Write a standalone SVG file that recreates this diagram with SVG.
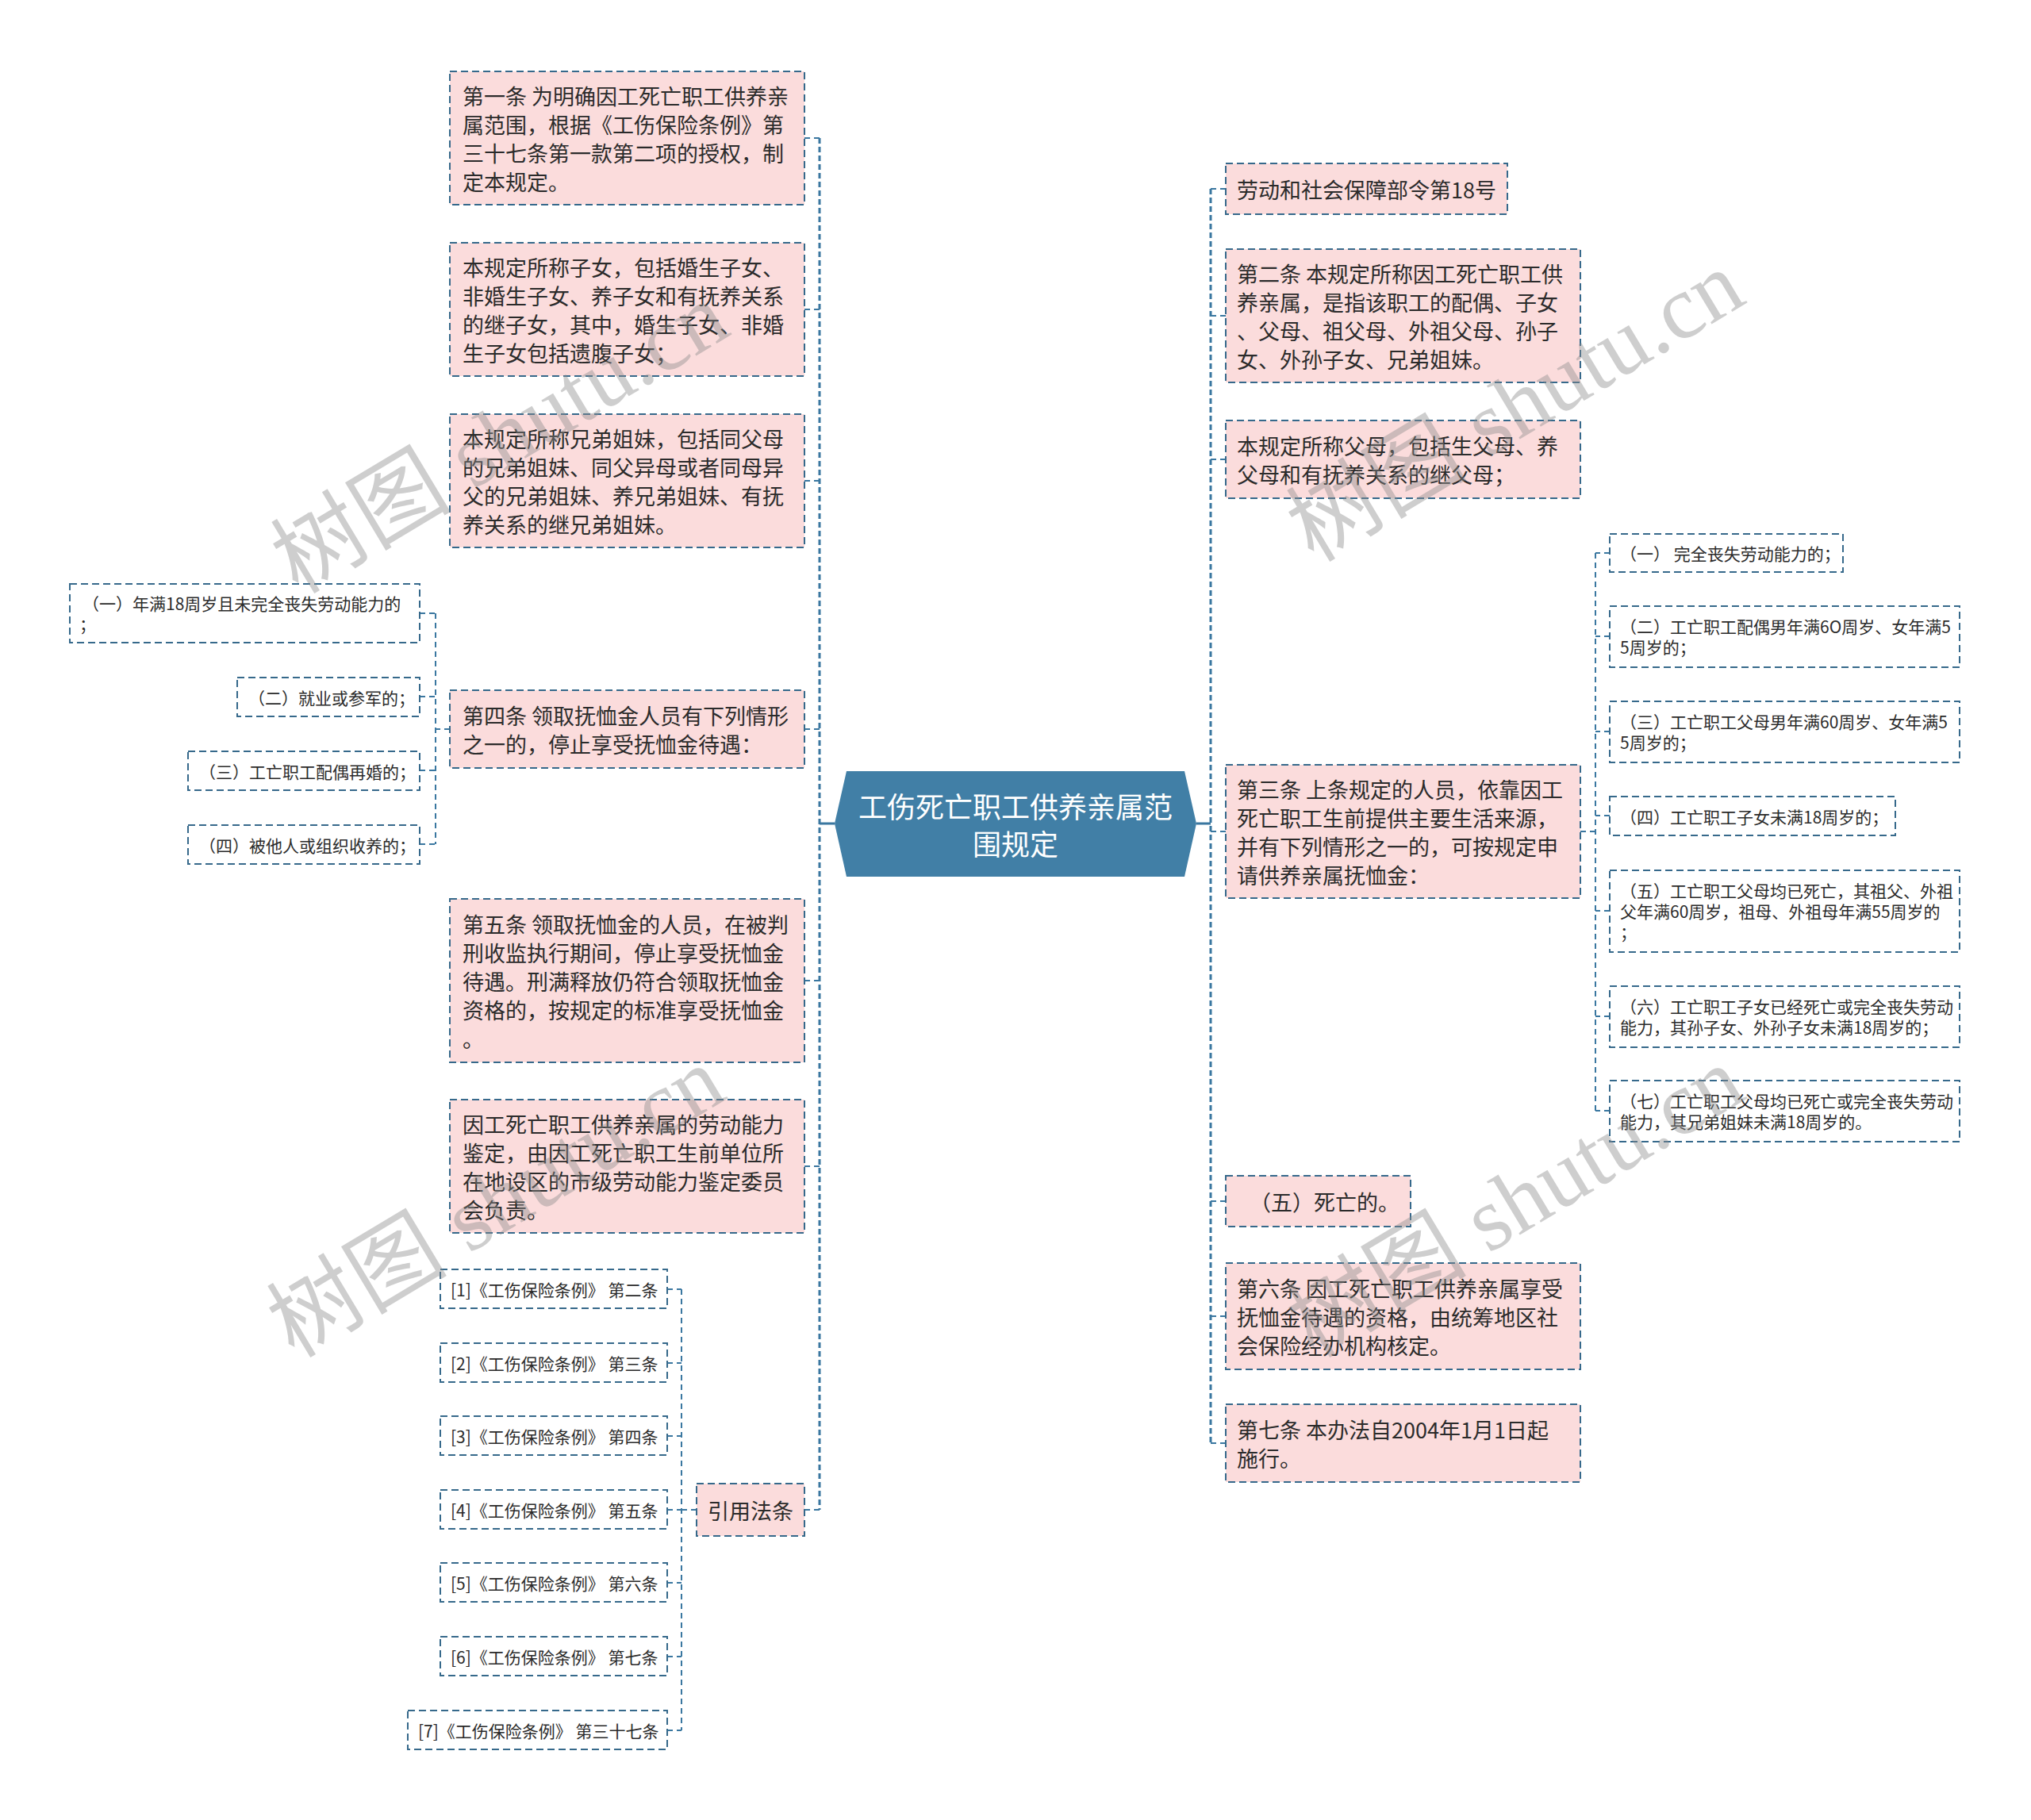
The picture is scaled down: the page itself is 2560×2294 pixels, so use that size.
<svg xmlns="http://www.w3.org/2000/svg" width="2560" height="2294" viewBox="0 0 2560 2294">
<style>
.box{fill:#fbdcdc;stroke:#36698b;stroke-width:2;stroke-dasharray:9 5}
.sbox{fill:#ffffff;stroke:#36698b;stroke-width:2;stroke-dasharray:9 5}
.t{font-family:"Noto Sans CJK SC","Noto Sans",sans-serif;font-size:27px;fill:#2b2b2b;dominant-baseline:central}
.s{font-size:21px}
.ct{font-family:"Noto Sans CJK SC","Noto Sans",sans-serif;font-size:36px;fill:#ffffff;dominant-baseline:central;text-anchor:middle}
.main{stroke:#3a77a0;stroke-width:3;stroke-dasharray:7 4;fill:none}
.sub{stroke:#3a77a0;stroke-width:2;stroke-dasharray:7 5;fill:none}
.link{stroke:#3a77a0;stroke-width:3;fill:none}
.wm{font-family:"Liberation Serif","Noto Sans CJK SC",serif;font-size:114px;fill:#8c8c8c;opacity:0.42}
</style>
<rect width="2560" height="2294" fill="#ffffff"/>

<g id="connectors">
  <path class="link" d="M1052 1038 H1033"/>
  <path class="link" d="M1508 1038 H1526"/>
  <path class="main" d="M1033 174 V1903"/>
  <path class="sub" d="M1014 174 H1033 M1014 390 H1033 M1014 606 H1033 M1014 919 H1033 M1014 1236 H1033 M1014 1470 H1033 M1014 1903 H1033"/>
  <path class="main" d="M1526 238 V1819"/>
  <path class="sub" d="M1545 238 H1526 M1545 398 H1526 M1545 579 H1526 M1545 1048 H1526 M1545 1514 H1526 M1545 1659 H1526 M1545 1819 H1526"/>
  <path class="sub" d="M567 919 H549 M549 773 V1064 M529 773 H549 M529 878 H549 M529 971 H549 M529 1064 H549"/>
  <path class="sub" d="M878 1903 H859 M859 1625 V2181 M841 1625 H859 M841 1718 H859 M841 1810 H859 M841 1903 H859 M841 1995 H859 M841 2088 H859 M841 2181 H859"/>
  <path class="sub" d="M1992 1048 H2011 M2011 697 V1400 M2029 697 H2011 M2029 802 H2011 M2029 922 H2011 M2029 1028 H2011 M2029 1148 H2011 M2029 1281 H2011 M2029 1400 H2011"/>
</g>

<g id="center">
  <polygon points="1052,1038 1067,972 1493,972 1508,1038 1493,1105 1067,1105" fill="#417fa6"/>
  <text class="ct" x="1280" y="1015">工伤死亡职工供养亲属范</text>
  <text class="ct" x="1280" y="1062">围规定</text>
</g>

<g id="L1"><rect class="box" x="567" y="90" width="447" height="168"/>
  <text class="t" x="583" y="120">第一条 为明确因工死亡职工供养亲</text>
  <text class="t" x="583" y="156">属范围，根据《工伤保险条例》第</text>
  <text class="t" x="583" y="192">三十七条第一款第二项的授权，制</text>
  <text class="t" x="583" y="228">定本规定。</text></g>
<g id="L2"><rect class="box" x="567" y="306" width="447" height="168"/>
  <text class="t" x="583" y="336">本规定所称子女，包括婚生子女、</text>
  <text class="t" x="583" y="372">非婚生子女、养子女和有抚养关系</text>
  <text class="t" x="583" y="408">的继子女，其中，婚生子女、非婚</text>
  <text class="t" x="583" y="444">生子女包括遗腹子女；</text></g>
<g id="L3"><rect class="box" x="567" y="522" width="447" height="168"/>
  <text class="t" x="583" y="552">本规定所称兄弟姐妹，包括同父母</text>
  <text class="t" x="583" y="588">的兄弟姐妹、同父异母或者同母异</text>
  <text class="t" x="583" y="624">父的兄弟姐妹、养兄弟姐妹、有抚</text>
  <text class="t" x="583" y="660">养关系的继兄弟姐妹。</text></g>
<g id="L4"><rect class="box" x="567" y="870" width="447" height="98"/>
  <text class="t" x="583" y="901">第四条 领取抚恤金人员有下列情形</text>
  <text class="t" x="583" y="937">之一的，停止享受抚恤金待遇：</text></g>
<g id="L4a"><rect class="sbox" x="88" y="736" width="441" height="74"/>
  <text class="t s" x="104" y="760">（一）年满18周岁且未完全丧失劳动能力的</text>
  <text class="t s" x="100" y="786">；</text></g>
<g id="L4b"><rect class="sbox" x="299" y="854" width="230" height="49"/>
  <text class="t s" x="313" y="879">（二）就业或参军的；</text></g>
<g id="L4c"><rect class="sbox" x="237" y="947" width="292" height="49"/>
  <text class="t s" x="251" y="972">（三）工亡职工配偶再婚的；</text></g>
<g id="L4d"><rect class="sbox" x="237" y="1040" width="292" height="49"/>
  <text class="t s" x="251" y="1065">（四）被他人或组织收养的；</text></g>
<g id="L5"><rect class="box" x="567" y="1133" width="447" height="206"/>
  <text class="t" x="583" y="1164">第五条 领取抚恤金的人员，在被判</text>
  <text class="t" x="583" y="1200">刑收监执行期间，停止享受抚恤金</text>
  <text class="t" x="583" y="1236">待遇。刑满释放仍符合领取抚恤金</text>
  <text class="t" x="583" y="1272">资格的，按规定的标准享受抚恤金</text>
  <text class="t" x="583" y="1308">。</text></g>
<g id="L6"><rect class="box" x="567" y="1386" width="447" height="168"/>
  <text class="t" x="583" y="1416">因工死亡职工供养亲属的劳动能力</text>
  <text class="t" x="583" y="1452">鉴定，由因工死亡职工生前单位所</text>
  <text class="t" x="583" y="1488">在地设区的市级劳动能力鉴定委员</text>
  <text class="t" x="583" y="1524">会负责。</text></g>
<g id="L7"><rect class="box" x="878" y="1870" width="136" height="66"/>
  <text class="t" x="892" y="1903">引用法条</text></g>
<g id="C1"><rect class="sbox" x="555" y="1600" width="286" height="49"/>
  <text class="t s" x="568" y="1625">[1]《工伤保险条例》 第二条</text></g>
<g id="C2"><rect class="sbox" x="555" y="1693" width="286" height="49"/>
  <text class="t s" x="568" y="1718">[2]《工伤保险条例》 第三条</text></g>
<g id="C3"><rect class="sbox" x="555" y="1785" width="286" height="49"/>
  <text class="t s" x="568" y="1810">[3]《工伤保险条例》 第四条</text></g>
<g id="C4"><rect class="sbox" x="555" y="1878" width="286" height="49"/>
  <text class="t s" x="568" y="1903">[4]《工伤保险条例》 第五条</text></g>
<g id="C5"><rect class="sbox" x="555" y="1970" width="286" height="49"/>
  <text class="t s" x="568" y="1995">[5]《工伤保险条例》 第六条</text></g>
<g id="C6"><rect class="sbox" x="555" y="2063" width="286" height="49"/>
  <text class="t s" x="568" y="2088">[6]《工伤保险条例》 第七条</text></g>
<g id="C7"><rect class="sbox" x="514" y="2156" width="327" height="49"/>
  <text class="t s" x="527" y="2181">[7]《工伤保险条例》 第三十七条</text></g>

<g id="R1"><rect class="box" x="1545" y="206" width="355" height="64"/>
  <text class="t" x="1559" y="238">劳动和社会保障部令第18号</text></g>
<g id="R2"><rect class="box" x="1545" y="314" width="447" height="168"/>
  <text class="t" x="1559" y="344">第二条 本规定所称因工死亡职工供</text>
  <text class="t" x="1559" y="380">养亲属，是指该职工的配偶、子女</text>
  <text class="t" x="1559" y="416">、父母、祖父母、外祖父母、孙子</text>
  <text class="t" x="1559" y="452">女、外孙子女、兄弟姐妹。</text></g>
<g id="R3"><rect class="box" x="1545" y="530" width="447" height="98"/>
  <text class="t" x="1559" y="561">本规定所称父母，包括生父母、养</text>
  <text class="t" x="1559" y="597">父母和有抚养关系的继父母；</text></g>
<g id="R4"><rect class="box" x="1545" y="964" width="447" height="168"/>
  <text class="t" x="1559" y="994">第三条 上条规定的人员，依靠因工</text>
  <text class="t" x="1559" y="1030">死亡职工生前提供主要生活来源，</text>
  <text class="t" x="1559" y="1066">并有下列情形之一的，可按规定申</text>
  <text class="t" x="1559" y="1102">请供养亲属抚恤金：</text></g>
<g id="R4a"><rect class="sbox" x="2029" y="673" width="294" height="48"/>
  <text class="t s" x="2042" y="697">（一） 完全丧失劳动能力的；</text></g>
<g id="R4b"><rect class="sbox" x="2029" y="764" width="441" height="77"/>
  <text class="t s" x="2042" y="789">（二）工亡职工配偶男年满6O周岁、女年满5</text>
  <text class="t s" x="2042" y="815">5周岁的；</text></g>
<g id="R4c"><rect class="sbox" x="2029" y="884" width="441" height="77"/>
  <text class="t s" x="2042" y="909">（三）工亡职工父母男年满60周岁、女年满5</text>
  <text class="t s" x="2042" y="935">5周岁的；</text></g>
<g id="R4d"><rect class="sbox" x="2029" y="1004" width="360" height="49"/>
  <text class="t s" x="2042" y="1029">（四）工亡职工子女未满18周岁的；</text></g>
<g id="R4e"><rect class="sbox" x="2029" y="1097" width="441" height="103"/>
  <text class="t s" x="2042" y="1122">（五）工亡职工父母均已死亡，其祖父、外祖</text>
  <text class="t s" x="2042" y="1148">父年满60周岁，祖母、外祖母年满55周岁的</text>
  <text class="t s" x="2042" y="1174">；</text></g>
<g id="R4f"><rect class="sbox" x="2029" y="1243" width="441" height="77"/>
  <text class="t s" x="2042" y="1268">（六）工亡职工子女已经死亡或完全丧失劳动</text>
  <text class="t s" x="2042" y="1294">能力，其孙子女、外孙子女未满18周岁的；</text></g>
<g id="R4g"><rect class="sbox" x="2029" y="1362" width="441" height="77"/>
  <text class="t s" x="2042" y="1387">（七）工亡职工父母均已死亡或完全丧失劳动</text>
  <text class="t s" x="2042" y="1413">能力，其兄弟姐妹未满18周岁的。</text></g>
<g id="R5"><rect class="box" x="1545" y="1482" width="233" height="64"/>
  <text class="t" x="1575" y="1514">（五）死亡的。</text></g>
<g id="R6"><rect class="box" x="1545" y="1592" width="447" height="134"/>
  <text class="t" x="1559" y="1623">第六条 因工死亡职工供养亲属享受</text>
  <text class="t" x="1559" y="1659">抚恤金待遇的资格，由统筹地区社</text>
  <text class="t" x="1559" y="1695">会保险经办机构核定。</text></g>
<g id="R7"><rect class="box" x="1545" y="1770" width="447" height="98"/>
  <text class="t" x="1559" y="1801">第七条 本办法自2004年1月1日起</text>
  <text class="t" x="1559" y="1837">施行。</text></g>

<g id="watermarks">
  <text class="wm" text-anchor="middle" transform="translate(650 585) rotate(-31)">树图 shutu.cn</text>
  <text class="wm" text-anchor="middle" transform="translate(645 1548) rotate(-31)">树图 shutu.cn</text>
  <text class="wm" text-anchor="middle" transform="translate(1930 545) rotate(-31)">树图 shutu.cn</text>
  <text class="wm" text-anchor="middle" transform="translate(1930 1548) rotate(-31)">树图 shutu.cn</text>
</g>
</svg>
